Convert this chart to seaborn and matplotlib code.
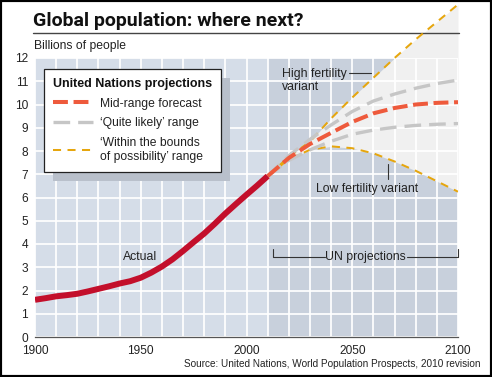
import matplotlib
matplotlib.use("Agg")
import matplotlib.pyplot as plt
import seaborn as sns
from matplotlib.patches import Rectangle
from matplotlib.lines import Line2D

# ---------------- data ----------------
actual_years = [1900, 1905, 1910, 1915, 1920, 1925, 1930, 1935, 1940, 1945, 1950, 1955,
                1960, 1965, 1970, 1975, 1980, 1985, 1990, 1995, 2000, 2005, 2010]
actual_pop = [1.60, 1.67, 1.75, 1.80, 1.86, 1.96, 2.07, 2.18, 2.30, 2.40, 2.55, 2.77,
              3.03, 3.34, 3.70, 4.08, 4.45, 4.87, 5.31, 5.72, 6.12, 6.51, 6.92]

proj_years = [2010, 2020, 2030, 2040, 2050, 2060, 2070, 2080, 2090, 2100]
mid_range = [6.92, 7.70, 8.30, 8.78, 9.25, 9.62, 9.85, 10.00, 10.07, 10.10]
likely_high = [6.92, 7.80, 8.50, 9.12, 9.70, 10.15, 10.45, 10.70, 10.90, 11.05]
likely_low = [6.92, 7.60, 8.05, 8.42, 8.72, 8.90, 9.02, 9.10, 9.15, 9.18]
high_variant = [6.92, 7.75, 8.40, 9.40, 10.30, 11.15, 12.00, 12.80, 13.55, 14.30]
low_variant = [6.92, 7.65, 8.05, 8.20, 8.12, 7.90, 7.55, 7.15, 6.70, 6.25]

x_ticks = [1900, 1950, 2000, 2050, 2100]
y_ticks = list(range(0, 13))

title = "Global population: where next?"
subtitle = "Billions of people"
legend_title = "United Nations projections"
legend_labels = ["Mid-range forecast", "\u2018Quite likely\u2019 range",
                 "\u2018Within the bounds\nof possibility\u2019 range"]
source = "Source: United Nations, World Population Prospects, 2010 revision"

# ---------------- style ----------------
sns.set_theme(style="white")
plt.rcParams['font.family'] = ['Liberation Sans', 'DejaVu Sans']
TXT = '#222222'
BG = '#d5dde8'
BG_PROJ = '#c8d0dc'
FAN = '#f0f0f0'
RED_ACT = '#c30f2b'
RED_MID = '#ee5a3c'
GREY = '#c6c6c6'
YELLOW = '#e6a60e'

W, H = 492, 377
fig = plt.figure(figsize=(W / 100, H / 100), dpi=100)
fig.patch.set_facecolor('white')
ax = fig.add_axes([35 / W, 40 / H, 423 / W, 279 / H])
ax.set_xlim(1900, 2100)
ax.set_ylim(0, 12)
ax.set_facecolor(BG)

ax.axvspan(2010, 2100, color=BG_PROJ, zorder=0.6, lw=0)
ax.fill_between(proj_years, low_variant, high_variant, color=FAN, lw=0,
                zorder=1, clip_on=False)

# grid
ax.set_xticks(x_ticks)
ax.set_xticks(list(range(1900, 2101, 10)), minor=True)
ax.set_yticks(y_ticks)
ax.set_axisbelow(False)
ax.grid(True, which='both', color='white', lw=1.25)
ax.tick_params(which='both', length=0, labelsize=8.6, labelcolor=TXT)
ax.tick_params(axis='y', pad=5)
ax.tick_params(axis='x', pad=5.5)
for s in ['top', 'right', 'left']:
    ax.spines[s].set_visible(False)
ax.spines['bottom'].set_color('#555555')
ax.spines['bottom'].set_linewidth(0.9)
ax.spines['bottom'].set_zorder(2.7)

# title underline (drawn above the fan)
ax.add_line(Line2D([33 / W, 459 / W], [1 - 33 / H, 1 - 33 / H], transform=fig.transFigure,
                   color='#444444', lw=1.0, clip_on=False, zorder=2))

# lines
sns.lineplot(x=proj_years, y=high_variant, ax=ax, color=YELLOW, lw=1.45,
             linestyle=(0, (4.0, 3.2)), zorder=3, clip_on=False)
h_yellow = ax.lines[-1]
sns.lineplot(x=proj_years, y=low_variant, ax=ax, color=YELLOW, lw=1.45,
             linestyle=(0, (4.0, 3.2)), zorder=3)
sns.lineplot(x=proj_years, y=likely_high, ax=ax, color=GREY, lw=2.4,
             linestyle=(0, (5.0, 2.4)), zorder=3.2)
h_grey = ax.lines[-1]
sns.lineplot(x=proj_years, y=likely_low, ax=ax, color=GREY, lw=2.4,
             linestyle=(0, (5.0, 2.4)), zorder=3.2)
sns.lineplot(x=proj_years, y=mid_range, ax=ax, color=RED_MID, lw=2.9,
             linestyle=(0, (3.7, 1.4)), zorder=3.5)
h_red = ax.lines[-1]
sns.lineplot(x=actual_years, y=actual_pop, ax=ax, color=RED_ACT, lw=4.3,
             solid_capstyle='butt', zorder=4)
ax.set_xlabel('')
ax.set_ylabel('')

# annotations
fs = 8.8
ax.text(1949.6, 3.45, "Actual", ha='center', va='center', fontsize=fs, color=TXT, zorder=6)
ax.text(2016.8, 11.03, "High fertility\nvariant", ha='left', va='center', fontsize=fs,
        color=TXT, linespacing=1.05, zorder=6)
ax.plot([2048.6, 2058.9], [11.35, 11.35], color='#333333', lw=0.8, zorder=6)
ax.text(2057, 6.37, "Low fertility variant", ha='center', va='center', fontsize=fs,
        color=TXT, zorder=6)
ax.plot([2066.9, 2066.9], [6.8, 7.45], color='#333333', lw=0.8, zorder=6)
ax.text(2056.2, 3.43, "UN projections", ha='center', va='center', fontsize=fs,
        color=TXT, zorder=6)
ax.plot([2012.6, 2012.6, 2037.0], [3.8, 3.43, 3.43], color='#333333', lw=0.8, zorder=6)
ax.plot([2076.0, 2100, 2100], [3.43, 3.43, 3.8], color='#333333', lw=0.8, zorder=6,
        clip_on=False)

# legend
leg = ax.legend([h_red, h_grey, h_yellow], legend_labels, title=legend_title,
                loc='upper left', bbox_to_anchor=(44 / W, 1 - 69 / H),
                bbox_transform=fig.transFigure, borderaxespad=0, frameon=True,
                fancybox=False, edgecolor='#222222', framealpha=1, facecolor='white',
                alignment='left', handlelength=3.3, handletextpad=0.55,
                labelspacing=0.62, borderpad=0.75, fontsize=8.7,
                title_fontproperties={'weight': 'bold', 'size': 9})
leg.get_frame().set_linewidth(0.9)
leg.set_zorder(7)
for t in leg.get_texts():
    t.set_color(TXT)
    t.set_linespacing(1.3)
leg.get_title().set_color('#111111')

# text in figure
fig.text(33 / W, 1 - 26 / H, title, fontsize=14, weight='bold', color='#111111',
         family=['Roboto', 'DejaVu Sans'], va='baseline')
fig.text(34 / W, 1 - 49 / H, subtitle, fontsize=8.7, color=TXT, va='baseline')
fig.text(480 / W, 1 - 364 / H, source, fontsize=7.2, color=TXT, ha='right', va='center')

# legend shadow
fig.canvas.draw()
bb = leg.get_window_extent()
ax.add_patch(Rectangle(((bb.x0 + 9) / W, (bb.y0 - 9) / H), bb.width / W, bb.height / H,
                       transform=fig.transFigure, color='#b9c0cb', lw=0, zorder=2.8,
                       clip_on=False))

# outer frame
fig.add_artist(Rectangle((0, 0), 1, 1, transform=fig.transFigure, fill=False,
                         ec='black', lw=3))

fig.savefig('out.png', dpi=100)
